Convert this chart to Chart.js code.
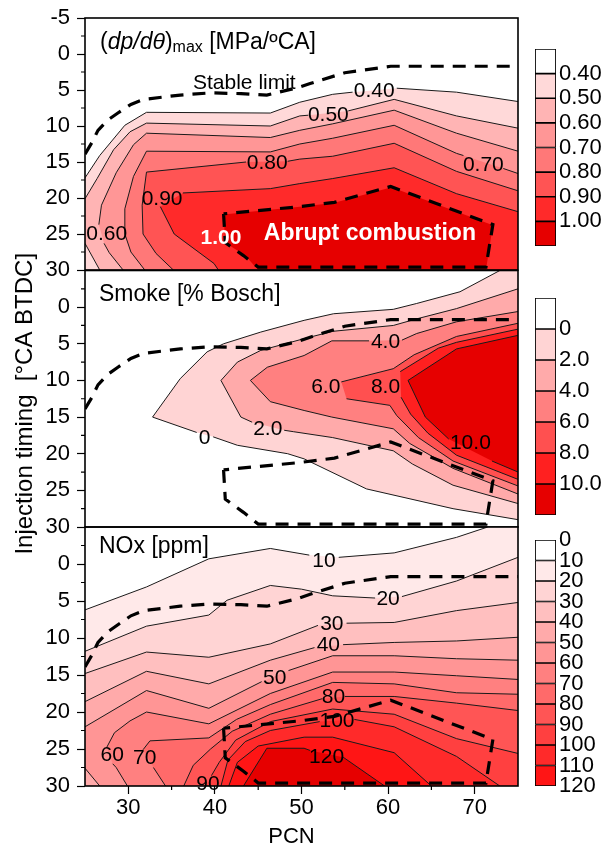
<!DOCTYPE html>
<html lang="en">
<head>
<meta charset="utf-8">
<title>PCN / injection timing maps</title>
<script src="https://cdn.jsdelivr.net/npm/chart.js@4.4.1/dist/chart.umd.min.js"></script>
<style>
  html, body { margin: 0; background: #fff; }
  #maps { position: relative; width: 606px; height: 852px; overflow: hidden; }
  #maps canvas { position: absolute; }
</style>
</head>
<body>
<div id="maps">
  <canvas id="dpChart" width="525" height="290" style="left:0;top:0"></canvas>
  <canvas id="smokeChart" width="525" height="320" style="left:0;top:240px"></canvas>
  <canvas id="noxChart" width="525" height="352" style="left:0;top:500px"></canvas>
  <canvas id="dpBar" width="76" height="225" style="left:530px;top:35px"></canvas>
  <canvas id="smokeBar" width="76" height="245" style="left:530px;top:284px"></canvas>
  <canvas id="noxBar" width="76" height="274" style="left:530px;top:526px"></canvas>
</div>
<script>
const FONT = "Arial, 'Liberation Sans', Helvetica, sans-serif";
Chart.defaults.font.family = FONT;
Chart.defaults.color = '#000';

// axes: PCN across, injection timing (°CA BTDC) down
const pcnTicks = [30, 40, 50, 60, 70];
const pcnMinor = [35, 45, 55, 65];
const timingTicks = [-5, 0, 5, 10, 15, 20, 25, 30];
const timingMinor = [-2.5, 2.5, 7.5, 12.5, 17.5, 22.5, 27.5];

// boundaries shared by all three maps, [PCN, timing]
const stableLimit = [[25,13.9],[25.8,12.3],[26.5,10.6],[27.6,9.2],[28.8,8.2],[30.3,7.0],[31.8,6.3],[36,5.7],[39.5,5.4],[43,5.5],[46,5.7],[49.5,4.7],[51,4.1],[55,2.6],[60.3,1.7],[75,1.7]];
const abruptZone = [[41.0,22.2],[41.2,26.2],[43.3,28.0],[45.0,29.6],[71.3,29.6],[72.1,23.7],[60.3,18.4],[53.8,20.6],[49.8,21.2],[41.0,22.2]];

// (dp/dθ)max, MPa/ºCA -- null marks the break under a contour label
const dpLevels = ['0.40', '0.50', '0.60', '0.70', '0.80', '0.90', '1.00'];
const dpColors = ['#ffffff', '#ffd9d9', '#ffb4b4', '#ff9696', '#ff7878', '#ff5454', '#ff2a2a', '#e60000'];
const dp040 = [[25,17.2],[26.7,14.1],[29.6,9.9],[32.1,8.1],[46.4,8.2],[49.8,6.7],[53.6,5.6],[55.9,5.3],null,[61.0,4.75],[67.9,5.3],[75,6.6]];
const dp050 = [[25,20.1],[26.4,17.3],[28.3,13.3],[30.2,10.8],[32.1,9.6],[46.4,10.0],[49.8,8.6],[50.8,8.5],null,[55.4,7.9],[60.7,6.3],[67.9,8.6],[75,10.3]];
const dp050b = [[25,26.3],[26.7,30]];
const dp060 = [[29.4,30],[27.8,27.6],[27.2,26.3],null,[26.6,23.7],[26.9,21.0],[28.6,16.5],[30.6,12.6],[32.1,11.0],[46.4,11.6],[49.8,10.6],[53.6,9.7],[60.7,7.8],[67.9,11.0],[75,13.5]];
const dp070 = [[31.9,30],[30.3,27.5],[29.6,25.0],[29.6,21.5],[30.6,17.0],[32.1,13.5],[46.4,13.6],[49.8,12.5],[53.6,11.7],[60.7,9.9],[67.9,13.8],[68.7,14.1],null,[73.3,15.9],[75,16.6]];
const dp080 = [[35.2,30],[33.2,27.7],[31.7,25.0],[31.6,21.0],[32.1,16.4],[43.6,15.0],null,[48.4,14.9],[49.8,14.6],[53.6,14.2],[60.7,12.4],[67.9,16.3],[75,19.0]];
const dp090 = [[40.4,30],[39.9,29.1],[35.3,25.0],[33.7,21.2],null,[36.3,19.3],[46.4,18.7],[49.8,18.0],[53.6,17.3],[60.7,15.8],[67.9,19.4],[75,21.9]];
const dp100 = [[41.0,22.3],[41.2,26.2],[43.5,28.0],[45.0,30],[71.3,30],[72.1,23.8],[60.4,18.5],[53.7,20.7],[49.8,21.2]];
const dpLabelText = ['0.40', '0.50', '0.60', '0.70', '0.80', '0.90'];
const dpLabelAt = [[58.4,5.2],[53.1,8.5],[27.5,25.0],[71.0,15.5],[46.05,15.2],[33.9,20.1]];

// smoke, % Bosch
const smokeLevels = ['0', '2.0', '4.0', '6.0', '8.0', '10.0'];
const smokeColors = ['#ffffff', '#ffd4d4', '#ffaaaa', '#ff8080', '#ff5050', '#ff2020', '#e60000'];
const sm0 = [[72.9,-5],[68.3,-2.1],[63.3,-0.5],[60.6,0.3],[53.7,0.9],[50.3,1.8],[45.3,3.4],[41.0,5.0],[39.1,6.1],[36.0,9.75],[32.8,15.0],[37.9,17.1],null,[39.8,17.7],[42.6,18.85],[48.4,20.0],[50.3,20.7],[57.5,24.8],[67.5,27.5],[75,29.0]];
const sm2 = [[75,-2.5],[67.9,0.2],[63.3,1.6],[60.6,2.5],[53.6,3.3],[50.3,4.3],[45.3,5.9],[42.6,7.5],[40.7,10.0],[43.0,15.0],[44.3,15.7],null,[48.0,16.8],[49.1,17.0],[53.6,17.8],[60.6,19.6],[62.8,21.4],[67.5,24.3],[75,26.8]];
const sm4 = [[75,0.6],[67.9,2.0],[63.3,3.6],[61.6,4.5],null,[57.8,4.6],[53.5,4.6],[50.3,6.6],[46.05,8.2],[44.1,10.0],[46.4,12.9],[50.3,14.1],[53.5,15.0],[60.6,16.6],[62.5,18.6],[67.5,22.0],[75,25.5]];
const sm6 = [[75,2.2],[67.9,4.0],[63.0,6.5],[60.6,8.4],[54.6,10.2],null,[55.2,12.5],[60.2,13.4],[61.0,14.8],[63.5,17.8],[67.5,21.0],[75,24.4]];
const sm8 = [[75,3.0],[67.9,4.8],[65.8,5.6],[61.4,8.8],null,[61.5,12.3],[62.6,14.6],[64.6,17.2],[67.9,20.2],[75,23.5]];
const sm10 = [[75,3.85],[67.9,5.7],[62.3,10.0],[64.3,15.0],[67.0,18.0],null,[72.0,21.0],[75,22.5]];
const smokeLabelAt = [[38.8,17.9],[46.1,16.7],[59.7,4.75],[52.8,10.9],[59.7,10.9],[69.5,18.6]];

// NOx, ppm
const noxLevels = ['0', '10', '20', '30', '40', '50', '60', '70', '80', '90', '100', '110', '120'];
const noxColors = ['#ffffff', '#ffe9e9', '#ffd4d4', '#ffbfbf', '#ffaaaa', '#ff9595', '#ff8080', '#ff6a6a', '#ff5555', '#ff4040', '#ff2a2a', '#ff1515', '#e60000'];
const nx10 = [[25,6.2],[32.1,3.1],[39.3,-0.7],[46.4,-2.1],[50.9,-1.2],null,[54.3,-0.9],[60.7,-1.5],[67.9,-3.6],[71.5,-5]];
const nx20 = [[25,11.8],[32.1,8.4],[39.3,6.9],[41.4,4.9],[46.4,2.9],[50,3.4],[53.6,4.3],[58.5,4.6],null,[61.6,4.4],[67.9,2.3],[75,-0.9]];
const nx30 = [[25,14.8],[32.1,11.9],[39.3,12.6],[46.4,10.8],[51.9,8.3],null,[55.2,8.0],[60.7,7.9],[67.9,6.3],[75,5.2]];
const nx40 = [[25,18.6],[32.1,14.5],[39.3,16.2],[46.4,13.0],[51.5,11.3],null,[54.8,10.9],[60.7,10.6],[67.9,10.4],[75,9.9]];
const nx50 = [[25,22.0],[32.1,17.1],[39.3,19.5],[45.4,15.9],null,[48.5,14.4],[53.6,12.4],[60.7,12.4],[67.9,12.8],[75,13.0]];
const nx50b = [[25,27.6],[26.7,30]];
const nx60 = [[29.9,30],[28.6,27.5],[28.2,27.0],null,[27.5,24.8],[28.4,22.8],[30.2,21.2],[32.1,20.0],[39.3,21.6],[46.4,17.5],[53.6,14.6],[60.7,14.6],[67.9,15.1],[75,15.6]];
const nx70 = [[34.3,30],[32.9,27.5],null,[31.7,25.1],[32.5,23.9],[39.3,23.5],[42.5,21.0],[46.4,19.0],[53.6,16.0],[60.7,16.2],[67.9,17.4],[75,17.6]];
const nx80 = [[36.4,30],[37.5,27.2],[39.5,25.0],[42.0,22.6],[46.4,20.3],[52.4,18.2],null,[55.0,17.9],[60.7,17.9],[67.9,18.8],[75,19.8]];
const nx90 = [[39.0,30],null,[39.6,28.6],[40.5,26.8],[42.4,23.8],[46.4,21.3],[53.6,19.6],[60.7,20.3],[67.9,23.6],[75,25.6]];
const nx100 = [[40.7,30],[41.5,26.5],[43.5,24.0],[46.4,22.5],[52.1,21.3],null,[56.1,21.0],[60.7,22.0],[67.9,26.0],[72.9,30]];
const nx110 = [[41.6,30],[42.6,26.8],[45.0,24.6],[50.3,23.4],[53.6,23.4],[60.7,25.5],[65.0,30]];
const nx120 = [[43.3,30],[46.0,24.9],[50.3,24.9],[51.0,25.2],null,[54.8,26.1],[59.6,30]];
const noxLabelText = ['10', '20', '30', '40', '50', '60', '70', '80', '90', '100', '120'];
const noxLabelAt = [[52.6,-0.4],[60.0,4.7],[53.5,8.1],[53.1,11.0],[46.9,15.4],[28.15,25.9],[31.9,26.3],[53.7,18.0],[39.2,29.8],[54.1,21.2],[52.9,26.1]];

function toXY(line) {
  let lastX = 25;
  return line.map(p => {
    if (!p) return { x: lastX, y: null };
    lastX = p[0];
    return { x: p[0], y: p[1] };
  });
}
const solid = line => line.filter(Boolean);
const rev = line => solid(line).slice().reverse();

// overlays: minor ticks, frame, contour labels and panel text
function decor(cfg) {
  return {
    id: 'decor',
    afterDatasetsDraw(chart) {
      const { ctx, chartArea: a, scales: { x, y } } = chart;
      ctx.save();
      ctx.strokeStyle = '#000';
      ctx.lineWidth = 1.2;
      ctx.beginPath();
      timingMinor.forEach(v => {
        const py = y.getPixelForValue(v);
        ctx.moveTo(a.left - 4, py);
        ctx.lineTo(a.left, py);
      });
      if (cfg.showX) {
        pcnMinor.forEach(v => {
          const px = x.getPixelForValue(v);
          ctx.moveTo(px, a.bottom);
          ctx.lineTo(px, a.bottom + 4);
        });
      }
      ctx.stroke();
      ctx.lineWidth = 1.6;
      ctx.strokeRect(a.left, a.top, a.width, a.height);

      ctx.fillStyle = '#000';
      ctx.font = '21px ' + FONT;
      ctx.textAlign = 'center';
      ctx.textBaseline = 'middle';
      cfg.labels.forEach((t, i) => {
        ctx.fillText(t, x.getPixelForValue(cfg.labelAt[i][0]), y.getPixelForValue(cfg.labelAt[i][1]));
      });
      cfg.extra(ctx, a, x, y);
      ctx.restore();
    }
  };
}

function drawPanel(id, cfg) {
  const datasets = [];
  cfg.fills.forEach((poly, i) => datasets.push({
    data: toXY(poly), fill: 'shape', backgroundColor: cfg.colors[i + 1],
    borderColor: 'transparent', borderWidth: 0, clip: false, order: 100 - i
  }));
  cfg.lines.forEach(line => datasets.push({
    data: toXY(line), fill: false, borderColor: '#1a1a1a', borderWidth: 1, order: 3
  }));
  [stableLimit, abruptZone].forEach(line => datasets.push({
    data: toXY(line), fill: false, borderColor: '#000', borderWidth: 3.2, borderDash: [13, 9], order: 2
  }));

  return new Chart(document.getElementById(id), {
    type: 'line',
    data: { datasets },
    options: {
      responsive: false,
      animation: false,
      events: [],
      layout: { padding: cfg.padding },
      elements: { point: { radius: 0 }, line: { tension: 0 } },
      plugins: { legend: { display: false }, tooltip: { enabled: false } },
      scales: {
        x: {
          type: 'linear', min: 25, max: 75, display: cfg.showX,
          afterBuildTicks: s => { s.ticks = pcnTicks.map(v => ({ value: v })); },
          afterFit: s => { if (cfg.showX) s.height = 66; },
          ticks: { autoSkip: false, maxRotation: 0, padding: 3, font: { size: 22, lineHeight: 1 } },
          grid: { drawOnChartArea: false, tickLength: 8, color: '#000', tickWidth: 1.2 },
          border: { display: false }
        },
        y: {
          type: 'linear', min: -5, max: 30, reverse: true,
          afterBuildTicks: s => { s.ticks = cfg.yTicks.map(v => ({ value: v })); },
          afterFit: s => { s.width = 85; },
          ticks: { autoSkip: false, padding: 7, font: { size: 22, lineHeight: 1 } },
          grid: { drawOnChartArea: false, tickLength: 8, color: '#000', tickWidth: 1.2 },
          border: { display: false }
        }
      }
    },
    plugins: [decor(cfg)]
  });
}

function drawBar(id, colors, labels, firstTick, padBottom) {
  return new Chart(document.getElementById(id), {
    type: 'bar',
    data: {
      labels: [''],
      datasets: colors.map(c => ({
        data: [1], backgroundColor: c, borderColor: '#000', borderWidth: 1.2, borderSkipped: false,
        barPercentage: 1, categoryPercentage: 1
      }))
    },
    options: {
      responsive: false,
      animation: false,
      events: [],
      layout: { padding: { left: 5, right: 0, top: 14, bottom: padBottom } },
      plugins: { legend: { display: false }, tooltip: { enabled: false } },
      scales: {
        x: { display: false, stacked: true },
        y: {
          stacked: true, min: 0, max: colors.length, reverse: true, position: 'right',
          afterBuildTicks: s => { s.ticks = labels.map((t, i) => ({ value: firstTick + i })); },
          afterFit: s => { s.width = 50; },
          ticks: { autoSkip: false, padding: 3, font: { size: 22, lineHeight: 1 }, callback: v => labels[v - firstTick] },
          grid: { display: false, drawTicks: false },
          border: { display: false }
        }
      }
    }
  });
}

// (dp/dθ)max map
drawPanel('dpChart', {
  padding: { top: 12, bottom: 20, left: 0, right: 7 },
  showX: false,
  yTicks: timingTicks,
  colors: dpColors,
  fills: [
    [...solid(dp040), [75, 30], [25, 30]],
    [...solid(dp050), [75, 30], ...rev(dp050b)],
    [...solid(dp060), [75, 30]],
    [...solid(dp070), [75, 30]],
    [...solid(dp080), [75, 30]],
    [...solid(dp090), [75, 30]],
    dp100
  ],
  lines: [dp040, dp050, dp050b, dp060, dp070, dp080, dp090],
  labels: dpLabelText,
  labelAt: dpLabelAt,
  extra(ctx, a, x, y) {
    let px = a.left + 15;
    const base = a.top + 31;
    ctx.textAlign = 'left';
    ctx.textBaseline = 'alphabetic';
    [['(', '23px', 0], ['dp/dθ', 'italic 23px', 0], [')', '23px', 0], ['max', '16px', 3], [' [MPa/ºCA]', '23px', 0]]
      .forEach(([t, f, dy]) => {
        ctx.font = f + ' ' + FONT;
        ctx.fillText(t, px, base + dy);
        px += ctx.measureText(t).width;
      });
    ctx.font = '21px ' + FONT;
    ctx.fillText('Stable limit', a.left + 108, a.top + 71);

    ctx.fillStyle = '#fff';
    ctx.textAlign = 'center';
    ctx.textBaseline = 'middle';
    ctx.font = 'bold 23px ' + FONT;
    ctx.fillText('Abrupt combustion', x.getPixelForValue(57.9), y.getPixelForValue(25.0));
    ctx.font = 'bold 21px ' + FONT;
    ctx.fillText(dpLevels[6], x.getPixelForValue(40.7), y.getPixelForValue(25.6));
  }
});

// smoke map
drawPanel('smokeChart', {
  padding: { top: 30.5, bottom: 33, left: 0, right: 7 },
  showX: false,
  yTicks: timingTicks.slice(1),
  colors: smokeColors,
  fills: [
    [...solid(sm0), [75, -5]],
    solid(sm2), solid(sm4), solid(sm6), solid(sm8), solid(sm10)
  ],
  lines: [sm0, sm2, sm4, sm6, sm8, sm10],
  labels: smokeLevels,
  labelAt: smokeLabelAt,
  extra(ctx, a) {
    ctx.textAlign = 'left';
    ctx.textBaseline = 'alphabetic';
    ctx.font = '23px ' + FONT;
    ctx.fillText('Smoke [% Bosch]', a.left + 14, a.top + 30.8);

    ctx.save();
    ctx.translate(32, (a.top + a.bottom) / 2 + 5);
    ctx.rotate(-Math.PI / 2);
    ctx.textAlign = 'center';
    ctx.font = '24px ' + FONT;
    ctx.fillText('Injection timing  [°CA BTDC]', 0, 0);
    ctx.restore();
  }
});

// NOx map
drawPanel('noxChart', {
  padding: { top: 27, bottom: 0, left: 0, right: 7 },
  showX: true,
  yTicks: timingTicks.slice(1),
  colors: noxColors,
  fills: [
    [...solid(nx10), [75, -5], [75, 30], [25, 30]],
    [...solid(nx20), [75, 30], [25, 30]],
    [...solid(nx30), [75, 30], [25, 30]],
    [...solid(nx40), [75, 30], [25, 30]],
    [...solid(nx50), [75, 30], ...rev(nx50b)],
    [...solid(nx60), [75, 30]],
    [...solid(nx70), [75, 30]],
    [...solid(nx80), [75, 30]],
    [...solid(nx90), [75, 30]],
    solid(nx100), solid(nx110), solid(nx120)
  ],
  lines: [nx10, nx20, nx30, nx40, nx50, nx50b, nx60, nx70, nx80, nx90, nx100, nx110, nx120],
  labels: noxLabelText,
  labelAt: noxLabelAt,
  extra(ctx, a) {
    ctx.textAlign = 'left';
    ctx.textBaseline = 'alphabetic';
    ctx.font = '23px ' + FONT;
    ctx.fillText('NOx [ppm]', a.left + 14, a.top + 26);
    ctx.textAlign = 'center';
    ctx.font = '22px ' + FONT;
    ctx.fillText('PCN', (a.left + a.right) / 2 - 10, a.bottom + 57);
  }
});

// colour scales
drawBar('dpBar', dpColors, dpLevels, 1, 13);
drawBar('smokeBar', smokeColors, smokeLevels, 1, 14);
drawBar('noxBar', noxColors.slice(0, 12), noxLevels, 0, 14);
</script>
</body>
</html>
